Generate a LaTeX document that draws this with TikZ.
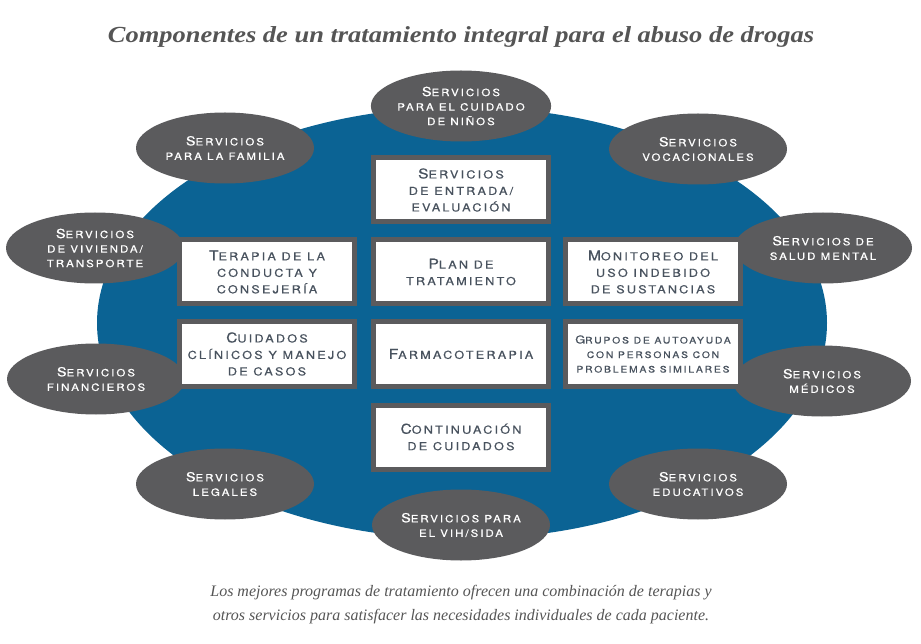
\documentclass[tikz,border=0pt]{standalone}
\usepackage{fontspec}
\setmainfont{Liberation Serif}
\newfontfamily\cop[LetterSpace=20,FakeStretch=1.15,FakeBold=0.6]{TeX Gyre Heros}
\newfontfamily\titlefont[FakeStretch=1.15]{Liberation Serif}
\usetikzlibrary{shapes.geometric}
\definecolor{bigblue}{HTML}{0B6394}
\definecolor{ellgray}{HTML}{5B5B5D}
\definecolor{boxtext}{HTML}{48525E}
\definecolor{captxt}{HTML}{555555}
\newcommand\bx[1]{{\fontsize{13.5}{16.5}\selectfont #1}}
\newcommand\ex[1]{{\fontsize{12.5}{14.5}\selectfont #1}}
\newcommand\gx[1]{{\fontsize{11}{14.5}\selectfont #1}}
\tikzset{
  svc/.style={ellipse, fill=ellgray, draw=none, minimum width=178pt, minimum height=71pt,
     inner sep=0pt, align=center, text=white, font=\cop\fontsize{10}{14.5}\selectfont},
  comp/.style={rectangle, fill=white, draw=ellgray, line width=5pt, minimum width=175pt,
     minimum height=64pt, inner sep=0pt, align=center, text=boxtext,
     font=\cop\fontsize{11}{16.5}\selectfont},
}
\begin{document}
\begin{tikzpicture}[x=1pt,y=-1pt]
\useasboundingbox (0,0) rectangle (921,644);
\node[font=\titlefont\bfseries\itshape\fontsize{23}{26}\selectfont, text=captxt] (title) at (461,37) {Componentes de un tratamiento integral para el abuso de drogas};
\node[ellipse, fill=bigblue, minimum width=730pt, minimum height=432pt, inner sep=0pt] (big) at (462,323) {};
% service ellipses
\node[svc] (ninos) at (461,106) {\ex{S}ERVICIOS\\PARA EL CUIDADO\\DE NIÑOS};
\node[svc] (familia) at (225,148) {\ex{S}ERVICIOS\\PARA LA FAMILIA};
\node[svc] (vocac) at (698,149) {\ex{S}ERVICIOS\\VOCACIONALES};
\node[svc] (vivienda) at (95,248) {\ex{S}ERVICIOS\\DE VIVIENDA/\\TRANSPORTE};
\node[svc] (salud) at (823,248) {\ex{S}ERVICIOS DE\\SALUD MENTAL};
\node[svc] (financ) at (96,379) {\ex{S}ERVICIOS\\FINANCIEROS};
\node[svc] (medicos) at (822,381) {\ex{S}ERVICIOS\\MÉDICOS};
\node[svc] (legales) at (225,484) {\ex{S}ERVICIOS\\LEGALES};
\node[svc] (educ) at (698,484) {\ex{S}ERVICIOS\\EDUCATIVOS};
\node[svc] (vih) at (461,525) {\ex{S}ERVICIOS PARA\\EL VIH/SIDA};
% component boxes
\node[comp] (entrada) at (461,190) {\bx{S}ERVICIOS\\DE ENTRADA/\\EVALUACIÓN};
\node[comp] (terapia) at (267,272) {\bx{T}ERAPIA DE LA\\CONDUCTA Y\\CONSEJERÍA};
\node[comp] (plan) at (461,272) {\bx{P}LAN DE\\TRATAMIENTO};
\node[comp] (monit) at (653,272) {\bx{M}ONITOREO DEL\\USO INDEBIDO\\DE SUSTANCIAS};
\node[comp] (cuid) at (267,354) {\bx{C}UIDADOS\\CLÍNICOS Y MANEJO\\DE CASOS};
\node[comp] (farma) at (461,354) {\bx{F}ARMACOTERAPIA};
\node[comp, font=\cop\fontsize{9}{14.5}\selectfont] (grupos) at (653,354) {\gx{G}RUPOS DE AUTOAYUDA\\CON PERSONAS CON\\PROBLEMAS SIMILARES};
\node[comp] (contin) at (461,437) {\bx{C}ONTINUACIÓN\\DE CUIDADOS};
% caption
\node[font=\itshape\fontsize{16}{24}\selectfont, text=captxt, align=center] (cap) at (461,605) {Los mejores programas de tratamiento ofrecen una combinación de terapias y\\otros servicios para satisfacer las necesidades individuales de cada paciente.};
\end{tikzpicture}
\end{document}
